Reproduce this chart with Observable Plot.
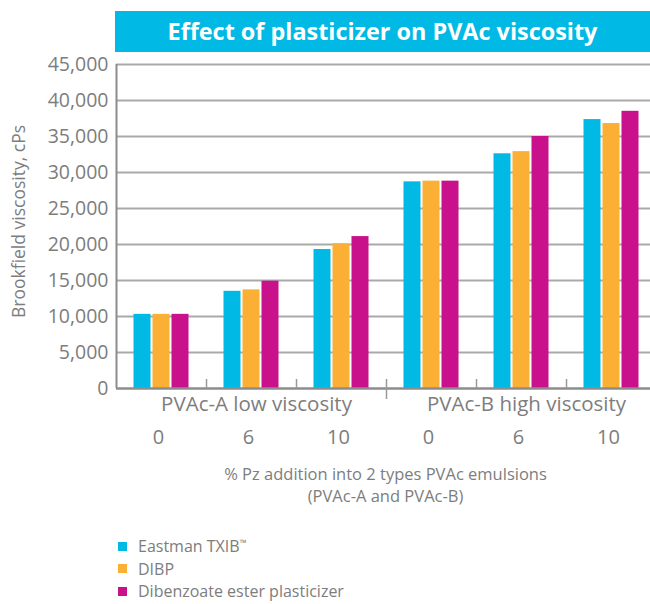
<!DOCTYPE html>
<html>
<head>
<meta charset="utf-8">
<script src="https://cdn.jsdelivr.net/npm/d3@7"></script>
<script src="https://cdn.jsdelivr.net/npm/@observablehq/plot@0.6"></script>
<style>
  html, body { margin: 0; padding: 0; background: #fff; overflow: hidden; }
  body { font-family: "Open Sans", "Noto Sans", sans-serif; width: 650px; height: 604px; position: relative; }
  #title { position: absolute; z-index: 2; left: 115px; top: 11px; width: 535px; height: 41px; background: #00B9E4; color: #fff;
           font-weight: 700; font-size: 23.4px; line-height: 41px; text-align: center; }
  #chart { position: absolute; z-index: 1; left: 0; top: 40px; width: 650px; height: 485px; overflow: hidden; }
  #chart svg { display: block; max-width: none !important; }
  #legend { position: absolute; left: 118px; top: 535px; font-size: 16px; line-height: 20px; color: #7d7d7d; }
  .item { display: flex; align-items: center; height: 22.5px; }
  .sw { width: 9px; height: 9px; margin-right: 11px; flex: none; }
  .tm { font-size: 9px; vertical-align: 6px; line-height: 0; }
</style>
</head>
<body>
<div id="title">Effect of plasticizer on PVAc viscosity</div>
<div id="chart"></div>
<div id="legend"></div>
<script>
// ---- data ----
const groups = ["PVAc-A low viscosity", "PVAc-B high viscosity"];
const pzLevels = ["0", "6", "10"];
const seriesNames = ["Eastman TXIB™", "DIBP", "Dibenzoate ester plasticizer"];
const txib = [10300, 13500, 19300, 28700, 32600, 37350];
const dibp = [10300, 13700, 20100, 28800, 32900, 36800];
const dibenzoate = [10300, 14900, 21100, 28800, 35000, 38500];
const yTicks = [0, 5000, 10000, 15000, 20000, 25000, 30000, 35000, 40000, 45000];
const yLabel = "Brookfield viscosity, cPs";
const xLabelLines = ["% Pz addition into 2 types PVAc emulsions", "(PVAc-A and PVAc-B)"];
const colors = ["#00B9E4", "#FBAF34", "#C8118A"];

// ---- build table ----
const keys = groups.flatMap((g, gi) => pzLevels.map(p => `${gi}|${p}`));
const seriesValues = [txib, dibp, dibenzoate];
const rows = seriesNames.flatMap((s, si) => keys.map((k, i) => ({key: k, series: s, value: seriesValues[si][i]})));
const groupLabels = groups.map((g, gi) => ({key: `${gi}|${pzLevels[1]}`, label: g}));

const gray = "#7d7d7d";
const offsets = [-19, 0, 19];

const chart = Plot.plot({
  width: 656,
  height: 485,
  marginLeft: 116,
  marginRight: 0,
  marginTop: 24,
  marginBottom: 137,
  style: {fontFamily: "'Open Sans', 'Noto Sans', sans-serif", color: gray, background: "transparent", overflow: "visible", maxWidth: "none"},
  x: {domain: keys, padding: 0, axis: null},
  y: {domain: [0, 45000], axis: null},
  color: {domain: seriesNames, range: colors},
  marks: [
    Plot.ruleY(yTicks.filter(v => v > 0), {stroke: "#a9a9a9", strokeWidth: 2}),
    ...seriesNames.map((s, si) =>
      Plot.barY(rows.filter(d => d.series === s), {x: "key", y: "value", fill: "series", insetLeft: 36.5, insetRight: 36.5, dx: offsets[si]})
    ),
    Plot.ruleY([0], {stroke: "#8c8c8c", strokeWidth: 2.5}),
    Plot.ruleX([keys[0]], {x: d => d, dx: -45, stroke: "#8c8c8c", strokeWidth: 2}),
    Plot.ruleX(keys.slice(1).filter(k => k !== `1|${pzLevels[0]}`), {x: d => d, dx: -45, insetTop: 315, stroke: "#999", strokeWidth: 1.5}),
    Plot.ruleX([`1|${pzLevels[0]}`], {x: d => d, dx: -45, insetTop: 315, insetBottom: -11, stroke: "#999", strokeWidth: 1.5}),
    Plot.text(yTicks, {y: d => d, frameAnchor: "left", dx: -8, textAnchor: "end", text: d => d3.format(",")(d), fontSize: 19.5, fill: gray}),
    Plot.text([yLabel], {frameAnchor: "left", dx: -97, dy: -5, rotate: -90, textAnchor: "middle", text: d => d, fontSize: 17.5, fill: gray}),
    Plot.text(keys, {x: d => d, frameAnchor: "bottom", dy: 55.5, dx: -3, text: d => d.split("|")[1], fontSize: 20, fill: gray}),
    Plot.text(groupLabels, {x: "key", frameAnchor: "bottom", dy: 22, dx: 5, text: "label", fontSize: 20.5, fill: gray}),
    Plot.text([xLabelLines[0]], {frameAnchor: "bottom", dy: 91, dx: -1, text: d => d, fontSize: 16.5, fill: gray}),
    Plot.text([xLabelLines[1]], {frameAnchor: "bottom", dy: 113, dx: -1, text: d => d, fontSize: 16.5, fill: gray})
  ]
});
document.getElementById("chart").appendChild(chart);

const legend = document.getElementById("legend");
seriesNames.forEach((s, i) => {
  const item = document.createElement("div");
  item.className = "item";
  const sw = document.createElement("span");
  sw.className = "sw";
  sw.style.background = colors[i];
  const t = document.createElement("span");
  const m = s.match(/^(.*?)(™)?$/);
  t.appendChild(document.createTextNode(m[1]));
  if (m[2]) {
    const tm = document.createElement("span");
    tm.className = "tm";
    tm.textContent = m[2];
    t.appendChild(tm);
  }
  item.appendChild(sw);
  item.appendChild(t);
  legend.appendChild(item);
});
</script>
</body>
</html>
